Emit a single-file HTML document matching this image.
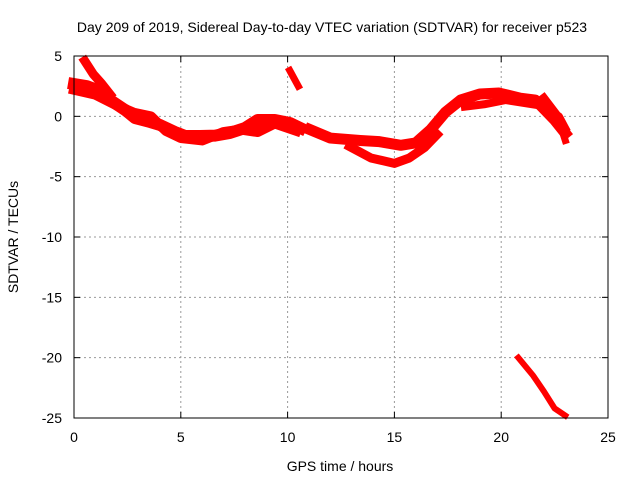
<!DOCTYPE html>
<html><head><meta charset="utf-8"><style>
body{margin:0;background:#fff;}
svg text{font-family:"Liberation Sans",sans-serif;font-size:14px;fill:#000;}
</style></head><body>
<svg id="chart" width="640" height="480" xmlns="http://www.w3.org/2000/svg">
<text x="332" y="32" text-anchor="middle">Day 209 of 2019, Sidereal Day-to-day VTEC variation (SDTVAR) for receiver p523</text>
<text x="340" y="471" text-anchor="middle">GPS time / hours</text>
<text transform="translate(18,237) rotate(-90)" text-anchor="middle">SDTVAR / TECUs</text>
<g id="grid"></g><g id="ticks"></g><g id="marks"></g>
<rect x="74" y="56" width="534" height="362" fill="none" stroke="#000" stroke-width="1"/>
</svg>
<script>
const xTicks=[0,5,10,15,20,25];
const yTicks=[5,0,-5,-10,-15,-20,-25];
const seriesMain=[[0,2.68],[0.6,2.5],[1.22,2.1],[1.69,1.35],[2.39,0.53],[2.86,-0.14],[3.56,-0.47],[4.03,-0.72],[4.73,-1.3],[5.2,-1.63],[5.9,-1.63],[6.6,-1.6],[7.3,-1.38],[8.0,-0.97],[8.6,-0.3],[9.4,-0.3],[10.1,-0.55],[10.6,-0.97]];
const seriesMain2=[[0,2.2],[1.0,1.8],[2.0,0.9],[2.8,0.3],[3.6,0.0],[4.3,-1.2],[5.0,-1.8],[6.0,-2.0],[7.0,-1.3],[7.8,-1.1],[8.6,-1.3],[9.4,-0.6],[10.4,-1.2]];
const seriesEarly=[[0.5,4.6],[0.9,3.5],[1.3,2.7],[1.7,1.8]];
const seriesShort=[[10.1,3.8],[10.5,2.5]];
const seriesLate=[[11.05,-1.1],[12.0,-1.8],[13.4,-2.0],[14.3,-2.1],[15.3,-2.4],[16.0,-2.2],[16.7,-1.1],[17.4,0.36],[18.1,1.35],[19.0,1.85],[19.9,1.93],[20.9,1.5],[21.6,1.35],[22.5,-0.3],[23.0,-1.4]];
const seriesLoop=[[12.9,-2.5],[13.9,-3.45],[15.0,-3.9],[15.7,-3.45],[16.4,-2.6],[17.0,-1.5]];
const seriesBranch=[[18.3,0.8],[19.2,1.0],[20.2,1.35],[21.8,0.9],[22.7,0.0],[23.0,-1.0]];
const seriesBranch2=[[22.0,1.6],[22.6,0.2],[23.0,-2.0]];
const seriesDrop=[[20.8,-20],[21.5,-21.5],[22.0,-22.8],[22.5,-24.2],[23.0,-24.8]];
const X=h=>74+h*534/25, Y=v=>56+(5-v)*362/30;
const NS='http://www.w3.org/2000/svg';
const grid=document.getElementById('grid'),ticks=document.getElementById('ticks'),marks=document.getElementById('marks');
function mk(t,a,p){const e=document.createElementNS(NS,t);for(const k in a)e.setAttribute(k,a[k]);p.appendChild(e);return e;}
xTicks.forEach(t=>{const x=X(t);
 if(t>0&&t<25){const g=mk('line',{x1:x,x2:x,y1:56,y2:418,stroke:'#999','stroke-dasharray':'2,3'},grid);
 
 }
 mk('line',{x1:x,x2:x,y1:418,y2:412,stroke:'#000'},ticks);mk('line',{x1:x,x2:x,y1:56,y2:62,stroke:'#000'},ticks);
 const l=mk('text',{x:x,y:442,'text-anchor':'middle'},ticks);l.textContent=t;
 
 });
yTicks.forEach(t=>{const y=Y(t);
 if(t<5&&t>-25){const g=mk('line',{x1:74,x2:608,y1:y,y2:y,stroke:'#999','stroke-dasharray':'2,3'},grid);
 
 }
 mk('line',{x1:74,x2:80,y1:y,y2:y,stroke:'#000'},ticks);mk('line',{x1:608,x2:602,y1:y,y2:y,stroke:'#000'},ticks);
 const l=mk('text',{x:62,y:y+5,'text-anchor':'end'},ticks);l.textContent=t;
 
 });
[[seriesMain,12],[seriesMain2,10],[seriesEarly,9],[seriesShort,7],[seriesLate,11],[seriesLoop,9],[seriesBranch,8],[seriesBranch2,7],[seriesDrop,6]].forEach(([s,w])=>{
 const p=mk('polyline',{points:s.map(d=>X(d[0])+','+Y(d[1])).join(' '),fill:'none',stroke:'#f00','stroke-width':w,'stroke-linejoin':'round','stroke-linecap':'square'},marks);
 
 
});
</script>
</body></html>
